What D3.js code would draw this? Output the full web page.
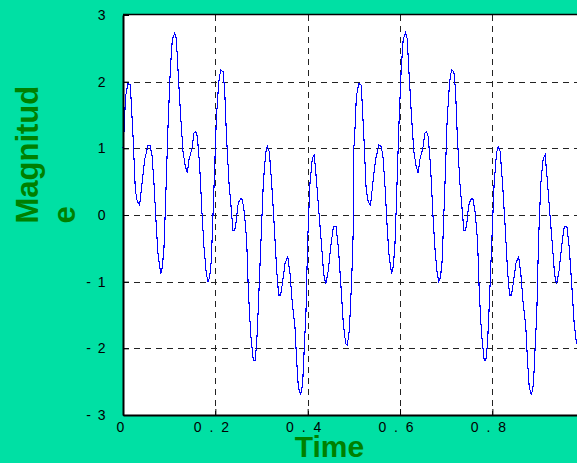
<!DOCTYPE html>
<html>
<head>
<meta charset="utf-8">
<script src="https://cdn.jsdelivr.net/npm/d3@7"></script>
<style>
  html, body { margin: 0; padding: 0; background: #00E0A4; }
  svg { display: block; }
  text { font-family: "Liberation Sans", Arial, sans-serif; }
</style>
</head>
<body>
<svg id="chart" width="577" height="463"></svg>
<script>
// ---- data ----
const time = [
  0, .0036, .0050, .0072, .0108, .0159, .0180, .0217, .0267, .0310, .0361, .0412, .0469, .0505, .0541, .0585, .0628, .0671, .0722, .0758,
  .0816, .0852, .0888, .0924, .0975, .1025, .1068, .1119, .1155, .1191, .1249, .1300, .1350, .1393, .1430, .1494, .1538, .1574, .1610, .1661,
  .1711, .1754, .1805, .1841, .1877, .1913, .1964, .2021, .2072, .2115, .2166, .2202, .2238, .2296, .2346, .2383, .2419, .2455,
  .2484, .2512, .2556, .2585, .2628, .2679, .2715, .2765, .2823, .2859, .2895, .2931, .2989, .3039, .3090, .3126, .3169, .3220, .3278, .3328,
  .3372, .3415, .3458, .3509, .3567, .3617, .3668, .3725, .3761, .3798, .3848, .3891, .3927, .3964, .4000, .4050, .4101, .4144, .4195, .4245,
  .4303, .4346, .4390, .4447, .4498, .4556, .4613, .4664, .4722, .4772, .4823, .4859, .4902, .4953, .4989,
  .5000, .5036, .5050, .5072, .5108, .5159, .5180, .5217, .5267, .5310, .5361, .5412, .5469, .5505, .5541, .5585, .5628, .5671, .5722, .5758,
  .5816, .5852, .5888, .5924, .5975, .6025, .6068, .6119, .6155, .6191, .6249, .6300, .6350, .6393, .6430, .6494, .6538, .6574, .6610, .6661,
  .6711, .6754, .6805, .6841, .6877, .6913, .6964, .7021, .7072, .7115, .7166, .7202, .7238, .7296, .7346, .7383, .7419, .7455,
  .7484, .7512, .7556, .7585, .7628, .7679, .7715, .7765, .7823, .7859, .7895, .7931, .7989, .8039, .8090, .8126, .8169, .8220, .8278, .8328,
  .8372, .8415, .8458, .8509, .8567, .8617, .8668, .8725, .8761, .8798, .8848, .8891, .8927, .8964, .9000, .9050, .9101, .9144, .9195, .9245,
  .9303, .9346, .9390, .9447, .9498, .9556, .9613, .9664, .9722, .9772, .9823, .9859, .9902, .9953, .9989
];
const magnitude = [
  1.00, 1.43, 1.73, 1.85, 1.97, 1.95, 1.68, 1.18, 0.38, 0.20, 0.15, 0.48, 0.83, 0.93, 1.05, 1.04, 0.90, 0.48, -0.18, -0.58,
  -0.88, -0.78, -0.48, 0.23, 1.33, 2.18, 2.63, 2.73, 2.65, 2.18, 1.48, 0.95, 0.73, 0.63, 0.83, 1.00, 1.23, 1.25, 1.18, 0.73,
  0.03, -0.48, -0.88, -1.00, -0.93, -0.68, 0.28, 1.43, 1.98, 2.18, 2.15, 1.88, 1.23, 0.48, 0.08, -0.23, -0.23, -0.08,
  0.13, 0.20, 0.25, 0.23, 0.03, -0.38, -1.13, -1.78, -2.18, -2.18, -1.93, -1.38, -0.38, 0.48, 0.93, 1.03, 0.95, 0.48, -0.18, -0.83,
  -1.20, -1.20, -1.00, -0.73, -0.62, -0.88, -1.33, -1.68, -2.18, -2.58, -2.70, -2.53, -1.98, -1.43, -0.38, 0.48, 0.85, 0.90, 0.48, 0.03,
  -0.48, -0.88, -1.04, -0.83, -0.48, -0.18, -0.17, -0.48, -1.08, -1.63, -1.93, -1.95, -1.73, -0.98, -0.18,
  1.00, 1.43, 1.73, 1.85, 1.97, 1.95, 1.68, 1.18, 0.38, 0.20, 0.15, 0.48, 0.83, 0.93, 1.05, 1.04, 0.90, 0.48, -0.18, -0.58,
  -0.88, -0.78, -0.48, 0.23, 1.33, 2.18, 2.63, 2.73, 2.65, 2.18, 1.48, 0.95, 0.73, 0.63, 0.83, 1.00, 1.23, 1.25, 1.18, 0.73,
  0.03, -0.48, -0.88, -1.00, -0.93, -0.68, 0.28, 1.43, 1.98, 2.18, 2.15, 1.88, 1.23, 0.48, 0.08, -0.23, -0.23, -0.08,
  0.13, 0.20, 0.25, 0.23, 0.03, -0.38, -1.13, -1.78, -2.18, -2.18, -1.93, -1.38, -0.38, 0.48, 0.93, 1.03, 0.95, 0.48, -0.18, -0.83,
  -1.20, -1.20, -1.00, -0.73, -0.62, -0.88, -1.33, -1.68, -2.18, -2.58, -2.70, -2.53, -1.98, -1.43, -0.38, 0.48, 0.85, 0.90, 0.48, 0.03,
  -0.48, -0.88, -1.04, -0.83, -0.48, -0.18, -0.17, -0.48, -1.08, -1.63, -1.93, -1.95, -1.73, -0.98, -0.18
];
const xTicks = [0, 0.2, 0.4, 0.6, 0.8];
const xTickLabels = ["0", "0 . 2", "0 . 4", "0 . 6", "0 . 8"];
const yTicks = [-3, -2, -1, 0, 1, 2, 3];
const yTickLabels = ["- 3", "- 2", "- 1", "0", "1", "2", "3"];
const xTitle = "Time";
const yTitleLines = ["Magnitud", "e"];

// ---- layout ----
const W = 577, H = 463;
const plotL = 123, plotR = 584.7, plotT = 15, plotB = 415;
const bg = "#00E0A4", titleColor = "#008000";

const svg = d3.select("#chart");
svg.append("rect").attr("width", W).attr("height", H).attr("fill", bg);

const x = d3.scaleLinear().domain([0, 1]).range([plotL, plotR]);
const y = d3.scaleLinear().domain([-3, 3]).range([plotB, plotT]);

svg.append("rect").attr("x", plotL).attr("y", plotT)
  .attr("width", plotR - plotL).attr("height", plotB - plotT).attr("fill", "#ffffff");

// grid
const grid = svg.append("g").attr("stroke", "#222").attr("stroke-width", 1)
  .attr("stroke-dasharray", "6,5").attr("shape-rendering", "crispEdges");
grid.selectAll("line.v").data(xTicks.filter(d => d > 0)).join("line")
  .attr("class", "v")
  .attr("x1", d => Math.round(x(d)) + 0.5).attr("x2", d => Math.round(x(d)) + 0.5)
  .attr("y1", plotT).attr("y2", plotB);
grid.selectAll("line.h").data(yTicks.filter(d => d > -3 && d < 3)).join("line")
  .attr("class", "h")
  .attr("y1", d => Math.round(y(d)) + 0.5).attr("y2", d => Math.round(y(d)) + 0.5)
  .attr("x1", plotL).attr("x2", plotR);

// signal
const pts = d3.zip(time, magnitude);
svg.append("path")
  .datum(pts)
  .attr("fill", "none")
  .attr("stroke", "#0000FF")
  .attr("stroke-width", 1.1)
  .attr("shape-rendering", "crispEdges")
  .attr("d", d3.line().x(d => x(d[0])).y(d => y(d[1])));

// axes
const xAxis = d3.axisBottom(x).tickValues(xTicks)
  .tickFormat((d, i) => xTickLabels[i]).tickSizeInner(-6).tickSizeOuter(0).tickPadding(7);
const gx = svg.append("g").attr("transform", `translate(0,${plotB})`).call(xAxis);
gx.select(".domain").attr("stroke", "#000").attr("stroke-width", 2);
gx.selectAll(".tick line").attr("stroke", "#000");
gx.selectAll(".tick text")
  .attr("font-size", 14).attr("fill", "#000")
  .style("letter-spacing", "2px")
  .attr("dx", (d, i) => i === 0 ? -2 : -3.5);

const yAxis = d3.axisLeft(y).tickValues(yTicks)
  .tickFormat((d, i) => yTickLabels[i]).tickSizeInner(-6).tickSizeOuter(0).tickPadding(16);
const gy = svg.append("g").attr("transform", `translate(${plotL},0)`).call(yAxis);
gy.select(".domain").attr("stroke", "#000").attr("stroke-width", 2);
gy.selectAll(".tick line").attr("stroke", "#000");
gy.selectAll(".tick text")
  .attr("font-size", 14).attr("fill", "#000")
  .style("letter-spacing", "1.5px");

// top frame line
svg.append("line").attr("x1", plotL).attr("x2", plotR).attr("y1", plotT - 0.5).attr("y2", plotT - 0.5)
  .attr("stroke", "#000").attr("stroke-width", 1.5);

// titles
svg.append("text").attr("x", 329.5).attr("y", 457).attr("text-anchor", "middle")
  .attr("font-size", 30).attr("font-weight", "bold").attr("fill", titleColor).text(xTitle);

yTitleLines.forEach((t, i) => {
  svg.append("text")
    .attr("transform", `translate(${37.5 + i * 37.5},223.5) rotate(-90)`)
    .attr("text-anchor", "start")
    .attr("font-size", 31).attr("font-weight", "bold").attr("fill", titleColor).text(t);
});
</script>
</body>
</html>
